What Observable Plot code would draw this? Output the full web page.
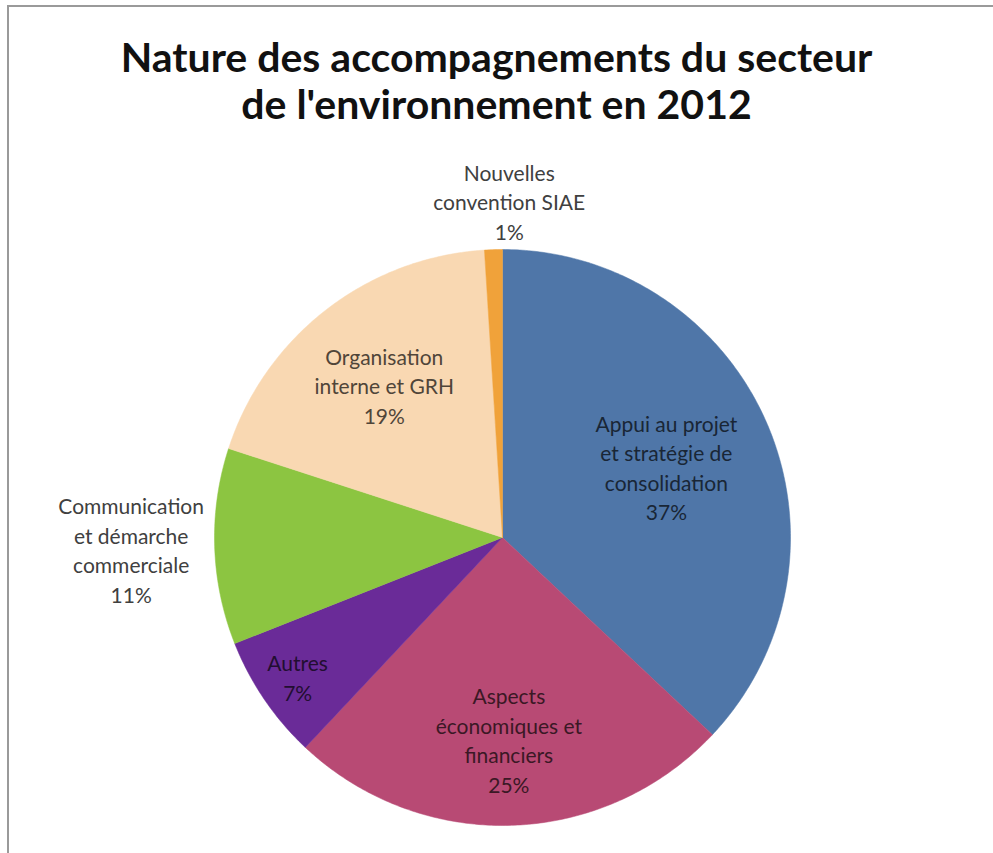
<!DOCTYPE html>
<html>
<head>
<meta charset="utf-8">
<script src="https://cdn.jsdelivr.net/npm/d3@7"></script>
<script src="https://cdn.jsdelivr.net/npm/@observablehq/plot@0.6"></script>
<style>
  html, body { margin: 0; padding: 0; background: #fff; }
  #frame { position: absolute; left: 7px; top: 5px; width: 986px; height: 848px;
           border-left: 2px solid #9a9a9a; border-top: 2px solid #9a9a9a; box-sizing: border-box; }
  #title { position: absolute; left: 0; top: 33px; width: 993px; text-align: center;
           font-family: Lato, "Open Sans", sans-serif; font-weight: bold; font-size: 41px;
           line-height: 47px; color: #111; }
  #chart { position: absolute; left: 0; top: 140px; }
</style>
</head>
<body>
<div id="frame"></div>
<div id="title">Nature des accompagnements du secteur<br>de l'environnement en 2012</div>
<div id="chart"></div>
<script>
// Data (clockwise from 12 o'clock)
const categories = [
  "Appui au projet\net stratégie de\nconsolidation",
  "Aspects\néconomiques et\nfinanciers",
  "Autres",
  "Communication\net démarche\ncommerciale",
  "Organisation\ninterne et GRH",
  "Nouvelles\nconvention SIAE"
];
const values = [37, 25, 7, 11, 19, 1];
const colors = ["#4f76a8", "#b84a74", "#6a2b98", "#8cc541", "#f9d8b2", "#f0a23a"];
// label placement (fraction of radius) and whether the label sits outside
const labelRadius = [0.62, 0.70, 0.86, 1.29, 0.67, 1.17];
const labelOutside = [false, false, false, true, false, true];

const pie = d3.pie().sort(null).value(d => d)(values);

// slice polygons
const slicePts = [];
pie.forEach((p, i) => {
  const n = Math.max(4, Math.ceil((p.endAngle - p.startAngle) / 0.01));
  slicePts.push({x: 0, y: 0, k: i});
  for (let j = 0; j <= n; j++) {
    const a = p.startAngle + (p.endAngle - p.startAngle) * j / n;
    slicePts.push({x: Math.sin(a), y: Math.cos(a), k: i});
  }
  slicePts.push({x: 0, y: 0, k: i});
});

const labels = pie.map((p, i) => {
  const a = (p.startAngle + p.endAngle) / 2;
  const r = labelRadius[i];
  return {
    x: Math.sin(a) * r + (i === 5 ? 0.06 : 0),
    y: Math.cos(a) * r,
    text: categories[i] + "\n" + values[i] + "%",
    fill: labelOutside[i] ? "#404040" : d3.color(colors[i]).darker(3.2).formatHex()
  };
});

const W = 993, H = 713, R = 288, cx = 502, cy = 397;
const chart = Plot.plot({
  width: W, height: H,
  marginLeft: cx - R, marginRight: W - (cx + R),
  marginTop: cy - R, marginBottom: H - (cy + R),
  x: {domain: [-1, 1], axis: null},
  y: {domain: [-1, 1], axis: null},
  color: {type: "identity"},
  style: {fontFamily: "Lato, 'Open Sans', sans-serif", background: "transparent"},
  marks: [
    Plot.line(slicePts, {x: "x", y: "y", z: "k", fill: d => colors[d.k], stroke: d => colors[d.k], strokeWidth: 0.5, curve: "linear"}),
    Plot.text(labels, {x: "x", y: "y", text: "text", fill: "fill", fontSize: 21, lineHeight: 1.4, lineAnchor: "middle", textAnchor: "middle"})
  ]
});
document.getElementById("chart").appendChild(chart);
</script>
</body>
</html>
